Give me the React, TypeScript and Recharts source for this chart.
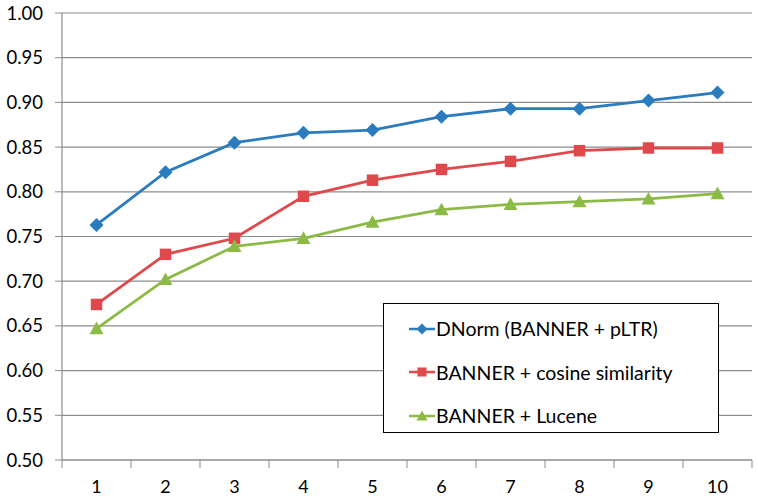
import React from "react";
import { LineChart, Line, XAxis, YAxis, CartesianGrid, Legend } from "recharts";

const xValues = [1, 2, 3, 4, 5, 6, 7, 8, 9, 10];
const dnorm = [0.763, 0.822, 0.855, 0.866, 0.869, 0.884, 0.893, 0.893, 0.902, 0.911];
const cosine = [0.674, 0.730, 0.748, 0.795, 0.813, 0.825, 0.834, 0.846, 0.849, 0.849];
const lucene = [0.647, 0.702, 0.739, 0.748, 0.766, 0.780, 0.786, 0.789, 0.792, 0.798];
const yTicks = [0.5, 0.55, 0.6, 0.65, 0.7, 0.75, 0.8, 0.85, 0.9, 0.95, 1.0];
const xTicks = [0.5, 1, 1.5, 2, 2.5, 3, 3.5, 4, 4.5, 5, 5.5, 6, 6.5, 7, 7.5, 8, 8.5, 9, 9.5, 10, 10.5];
const seriesNames = ["DNorm (BANNER + pLTR)", "BANNER + cosine similarity", "BANNER + Lucene"];

const BLUE = "#2B7BBF";
const RED = "#E0494B";
const GREEN = "#8CBB45";
const GRID = "#8C8C8C";
const FONT = "Lato, 'Open Sans', sans-serif";

const data = xValues.map((x, i) => ({ x, dnorm: dnorm[i], cosine: cosine[i], lucene: lucene[i] }));

function markerShape(kind: string, cx: number, cy: number, color: string, s: number) {
  if (kind === "diamond") {
    return <polygon points={`${cx},${cy - s} ${cx + s},${cy} ${cx},${cy + s} ${cx - s},${cy}`} fill={color} />;
  }
  if (kind === "square") {
    const h = s * 0.82;
    return <rect x={cx - h} y={cy - h} width={2 * h} height={2 * h} fill={color} />;
  }
  return <polygon points={`${cx},${cy - s} ${cx + s},${cy + s * 0.8} ${cx - s},${cy + s * 0.8}`} fill={color} />;
}

const makeDot = (kind: string, color: string) => (props: any) => {
  const { cx, cy, index } = props;
  if (cx == null || cy == null) return <g key={index} />;
  return <g key={index}>{markerShape(kind, cx, cy, color, 7)}</g>;
};

const XTick = (props: any) => {
  const { x, y, payload } = props;
  const v = payload.value;
  if (Number.isInteger(v)) {
    return (
      <text x={x} y={y + 33} textAnchor="middle" fontFamily={FONT} fontSize={18} fill="#000">
        {v}
      </text>
    );
  }
  return <line x1={x} y1={y} x2={x} y2={y + 8} stroke={GRID} strokeWidth={1} />;
};

const kinds = ["diamond", "square", "triangle"];
const colors = [BLUE, RED, GREEN];

const LegendContent = () => (
  <div
    style={{
      width: 336,
      height: 130,
      boxSizing: "border-box",
      border: "1.5px solid #000",
      background: "#fff",
      paddingTop: 3,
    }}
  >
    {seriesNames.map((name, i) => (
      <div key={name} style={{ height: 43.5, display: "flex", alignItems: "center" }}>
        <svg width={26} height={16} style={{ marginLeft: 25, marginRight: 1 }}>
          <line x1={0} y1={8} x2={26} y2={8} stroke={colors[i]} strokeWidth={2.5} />
          {markerShape(kinds[i], 13, 8, colors[i], 5.5)}
        </svg>
        <span style={{ fontFamily: FONT, fontSize: 19.5, color: "#000", whiteSpace: "nowrap" }}>{name}</span>
      </div>
    ))}
  </div>
);

export default function App() {
  return (
    <div style={{ position: "absolute", left: 0, top: 0, background: "#fff" }}>
      <LineChart width={758} height={500} data={data} margin={{ top: 13, right: 6, left: 0, bottom: 0 }}>
        <CartesianGrid vertical={false} stroke={GRID} strokeWidth={1.2} />
        <XAxis
          dataKey="x"
          type="number"
          domain={[0.5, 10.5]}
          ticks={xTicks}
          interval={0}
          tickLine={false}
          tickSize={0}
          tickMargin={0}
          height={40}
          stroke={GRID}
          axisLine={{ stroke: GRID, strokeWidth: 1.2 }}
          tick={<XTick />}
        />
        <YAxis
          type="number"
          domain={[0.5, 1.0]}
          ticks={yTicks}
          interval={0}
          width={62}
          tickSize={7}
          tickMargin={12}
          tickFormatter={(v: number) => v.toFixed(2)}
          axisLine={{ stroke: GRID, strokeWidth: 1.2 }}
          tickLine={{ stroke: GRID }}
          tick={{ fontFamily: FONT, fontSize: 18.5, fill: "#000" }}
        />
        <Legend
          layout="vertical"
          align="center"
          verticalAlign="middle"
          content={<LegendContent />}
          wrapperStyle={{ position: "absolute", left: 383, top: 303, width: 336, height: 130 }}
        />
        <Line
          type="linear"
          dataKey="dnorm"
          name={seriesNames[0]}
          stroke={BLUE}
          strokeWidth={2.8}
          dot={makeDot("diamond", BLUE)}
          activeDot={false}
          isAnimationActive={false}
        />
        <Line
          type="linear"
          dataKey="cosine"
          name={seriesNames[1]}
          stroke={RED}
          strokeWidth={2.8}
          dot={makeDot("square", RED)}
          activeDot={false}
          isAnimationActive={false}
        />
        <Line
          type="linear"
          dataKey="lucene"
          name={seriesNames[2]}
          stroke={GREEN}
          strokeWidth={2.8}
          dot={makeDot("triangle", GREEN)}
          activeDot={false}
          isAnimationActive={false}
        />
      </LineChart>
    </div>
  );
}
